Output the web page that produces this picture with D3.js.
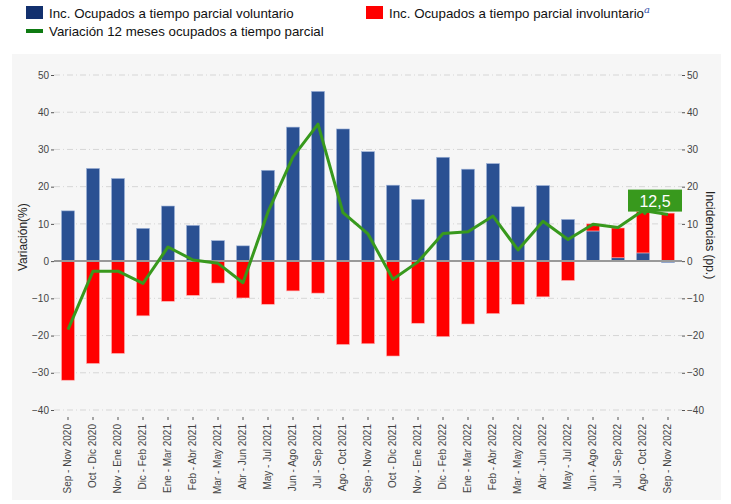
<!DOCTYPE html>
<html>
<head>
<meta charset="utf-8">
<script src="https://cdn.jsdelivr.net/npm/d3@7"></script>
<style>
  body { margin: 0; background: #fff; }
  text { font-family: "Liberation Sans", Arial, sans-serif; }
</style>
</head>
<body>
<svg id="chart" width="731" height="504"></svg>
<script>
// periodos moviles
const periodos = [
    "Sep - Nov 2020", "Oct - Dic 2020", "Nov - Ene 2020", "Dic - Feb 2021", "Ene - Mar 2021",
    "Feb - Abr 2021", "Mar - May 2021", "Abr - Jun 2021", "May - Jul 2021", "Jun - Ago 2021",
    "Jul - Sep 2021", "Ago - Oct 2021", "Sep - Nov 2021", "Oct - Dic 2021", "Nov - Ene 2021",
    "Dic - Feb 2022", "Ene - Mar 2022", "Feb - Abr 2022", "Mar - May 2022", "Abr - Jun 2022",
    "May - Jul 2022", "Jun - Ago 2022", "Jul - Sep 2022", "Ago - Oct 2022", "Sep - Nov 2022"
];
// incidencia voluntario (pp.)
const voluntario = [
    13.5, 24.9, 22.2, 8.8, 14.8, 9.6, 5.5, 4.1, 24.4, 36.0,
    45.6, 35.5, 29.4, 20.4, 16.6, 27.9, 24.7, 26.2, 14.6, 20.3,
    11.2, 8.1, 0.9, 2.2, -0.4
];
// incidencia involuntario (pp.)
const involuntario = [
    -32.0, -27.5, -24.8, -14.7, -10.8, -9.2, -5.9, -9.9, -11.6, -8.0,
    -8.6, -22.4, -22.2, -25.5, -16.7, -20.3, -16.9, -14.1, -11.6, -9.6,
    -5.2, 1.9, 8.0, 11.1, 12.9
];
// variacion 12 meses (%)
const variacion = [
    -18.4, -2.7, -2.7, -6.0, 3.8, 0.3, -0.6, -5.8, 13.2, 28.0,
    36.8, 13.0, 7.3, -4.9, -0.2, 7.4, 7.9, 12.1, 3.0, 10.7,
    5.8, 9.9, 9.0, 13.6, 12.5
];
const ticksY = [50, 40, 30, 20, 10, 0, -10, -20, -30, -40];

const svg = d3.select("#chart");
const colVol = "#2a5092", colInv = "#ff0000", colLine = "#38991d";

// panel gris
svg.append("rect")
    .attr("x", 12).attr("y", 54)
    .attr("width", 709).attr("height", 446)
    .attr("fill", "#f6f6f6");

const x = d3.scaleBand().domain(periodos).range([55.5, 680.5]).paddingInner(0.48).paddingOuter(0.24);
const y = d3.scaleLinear().domain([-40, 50]).range([410, 75]);

// grid
svg.append("g").selectAll("line").data(ticksY).join("line")
    .attr("x1", 54).attr("x2", 682)
    .attr("y1", d => y(d)).attr("y2", d => y(d))
    .attr("stroke", "#d6d6d6")
    .attr("stroke-dasharray", "6,3,1,3");

// ejes
const yLeft = svg.append("g").attr("transform", "translate(54,0)")
    .call(d3.axisLeft(y).tickValues(ticksY).tickSize(3).tickPadding(2));
const yRight = svg.append("g").attr("transform", "translate(682,0)")
    .call(d3.axisRight(y).tickValues(ticksY).tickSize(3).tickPadding(2));
const xAxis = svg.append("g").attr("transform", "translate(0,417)")
    .call(d3.axisBottom(x).tickSize(3).tickPadding(2));

[yLeft, yRight, xAxis].forEach(a => {
    a.select(".domain").remove();
    a.selectAll(".tick line").attr("stroke", "#555");
    a.selectAll("text").attr("fill", "#444").attr("font-size", "10px");
});
xAxis.selectAll("text")
    .attr("transform", "rotate(-90)")
    .attr("text-anchor", "end")
    .attr("x", -7).attr("y", 0)
    .attr("dy", "0.32em");

// barras apiladas (positivos arriba, negativos abajo)
const filas = periodos.map((p, i) => {
    let pos = 0, neg = 0;
    const out = [];
    [[voluntario[i], colVol], [involuntario[i], colInv]].forEach(([v, c]) => {
        if (v >= 0) { out.push({ p, y0: pos, y1: pos + v, c }); pos += v; }
        else { out.push({ p, y0: neg, y1: neg + v, c }); neg += v; }
    });
    return out;
}).flat();

svg.append("g").selectAll("rect").data(filas).join("rect")
    .attr("x", d => x(d.p))
    .attr("width", x.bandwidth())
    .attr("y", d => y(Math.max(d.y0, d.y1)))
    .attr("height", d => Math.abs(y(d.y0) - y(d.y1)))
    .attr("fill", d => d.c)
    .attr("stroke", d => d.c === colVol ? "#9fb4da" : "#ffb0b0")
    .attr("stroke-width", 0.6);

// linea del cero
svg.append("line")
    .attr("x1", 54).attr("x2", 682)
    .attr("y1", y(0)).attr("y2", y(0))
    .attr("stroke", "#999").attr("stroke-width", 2);

// variacion
const linea = d3.line()
    .x((d, i) => x(periodos[i]) + x.bandwidth() / 2)
    .y(d => y(d));
svg.append("path")
    .datum(variacion)
    .attr("d", linea)
    .attr("fill", "none")
    .attr("stroke", colLine)
    .attr("stroke-width", 3)
    .attr("stroke-linejoin", "round");

// etiqueta del ultimo dato
const last = variacion.length - 1;
const lx = x(periodos[last]) + x.bandwidth() / 2, ly = y(variacion[last]);
const etiqueta = svg.append("g");
etiqueta.append("path")
    .attr("d", `M${lx - 28},${ly - 4} L${lx - 23},${ly + 1} L${lx - 19},${ly - 4} Z`)
    .attr("fill", colLine);
etiqueta.append("rect")
    .attr("x", lx - 40).attr("y", ly - 25)
    .attr("width", 54).attr("height", 22)
    .attr("fill", colLine);
etiqueta.append("text")
    .attr("x", lx - 13).attr("y", ly - 8)
    .attr("text-anchor", "middle")
    .attr("fill", "#fff")
    .attr("font-size", "16px")
    .text("12,5");

// titulos de ejes
svg.append("text")
    .attr("transform", `translate(27,${y(0) - 24}) rotate(-90)`)
    .attr("text-anchor", "middle")
    .attr("font-size", "12px").attr("fill", "#222")
    .text("Variación(%)");
svg.append("text")
    .attr("transform", `translate(706,${y(0) - 26}) rotate(90)`)
    .attr("text-anchor", "middle")
    .attr("font-size", "12px").attr("fill", "#222")
    .text("Incidencias (pp.)");

// leyenda
const leyenda = svg.append("g").attr("font-size", "13.3px").attr("fill", "#111");
leyenda.append("rect").attr("x", 26).attr("y", 6).attr("width", 17).attr("height", 13).attr("fill", "#12306e");
leyenda.append("text").attr("x", 49).attr("y", 18).text("Inc. Ocupados a tiempo parcial voluntario");
leyenda.append("rect").attr("x", 366).attr("y", 6).attr("width", 17).attr("height", 13).attr("fill", colInv);
const t2 = leyenda.append("text").attr("x", 389).attr("y", 18).text("Inc. Ocupados a tiempo parcial involuntario");
t2.append("tspan")
    .attr("dy", -5).attr("font-size", "10px")
    .attr("font-style", "italic").attr("font-family", "DejaVu Serif, serif")
    .attr("fill", "#3050a8")
    .text("a");
leyenda.append("rect").attr("x", 26).attr("y", 29).attr("width", 17).attr("height", 4).attr("fill", "#0e7a12");
leyenda.append("text").attr("x", 49).attr("y", 36).text("Variación 12 meses ocupados a tiempo parcial");
</script>
</body>
</html>
